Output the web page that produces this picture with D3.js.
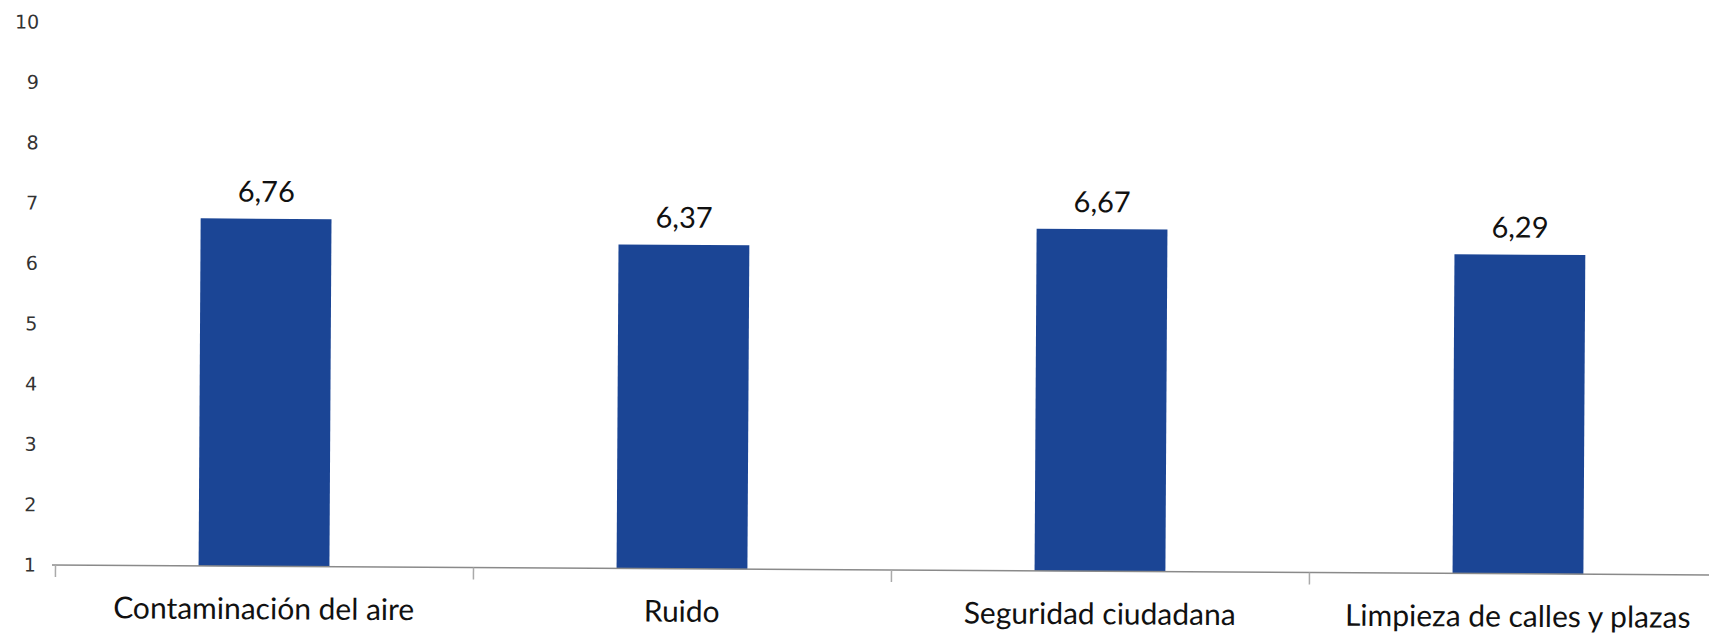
<!DOCTYPE html>
<html><head><meta charset="utf-8">
<script src="https://cdn.jsdelivr.net/npm/d3@7"></script>
<style>html,body{margin:0;padding:0;background:#fff;overflow:hidden}</style>
</head><body>
<svg id="chart" width="1709" height="635"></svg>
<script>
const categories = ["Contaminación del aire", "Ruido", "Seguridad ciudadana", "Limpieza de calles y plazas"];
const values = [6.76, 6.37, 6.67, 6.29];
const valueLabels = ["6,76", "6,37", "6,67", "6,29"];
const yTicks = [1, 2, 3, 4, 5, 6, 7, 8, 9, 10];

const svg = d3.select("#chart");
const originX = 52, originY = 565;
// slight skew of the scanned original
const g = svg.append("g").attr("transform", `rotate(0.344 ${originX} ${originY})`);

const x = d3.scaleBand().domain(categories).range([55, 1727]).paddingInner(0.687).paddingOuter(0.3435);
const y = d3.scaleLinear().domain([1, 10]).range([originY, 22]);

// y tick labels
g.append("g").selectAll("text").data(yTicks).join("text")
  .attr("x", 36).attr("y", d => y(d)).attr("dy", "0.35em")
  .attr("text-anchor", "end")
  .style("font-family", "DejaVu Sans").style("font-size", "19px").style("fill", "#333")
  .text(d => d);

// bars
g.append("g").selectAll("rect").data(values).join("rect")
  .attr("x", (d, i) => x(categories[i]))
  .attr("width", x.bandwidth())
  .attr("y", d => y(d))
  .attr("height", d => y(1) - y(d))
  .attr("fill", "#1b4595");

// x axis
const xAxis = d3.axisBottom(d3.scaleLinear().domain([0, 4]).range([55, 1727])).tickValues([0,1,2,3,4]).tickSize(12).tickFormat("");
const ax = g.append("g").attr("transform", `translate(0,${originY})`).call(xAxis);
ax.select(".domain").attr("stroke", "#8a8a8a").attr("stroke-width", 1.5).attr("d", `M${originX},0H1727`);
ax.selectAll(".tick line").attr("stroke", "#aaa").attr("stroke-width", 1.5);

// value labels
g.append("g").selectAll("text").data(values).join("text")
  .attr("x", (d, i) => x(categories[i]) + x.bandwidth() / 2)
  .attr("y", d => y(d) - 17)
  .attr("text-anchor", "middle")
  .style("font-family", "Lato").style("font-size", "29px").style("fill", "#111")
  .text((d, i) => valueLabels[i]);

// category labels
g.append("g").selectAll("text").data(categories).join("text")
  .attr("x", d => x(d) + x.bandwidth() / 2)
  .attr("y", originY + 53)
  .attr("text-anchor", "middle")
  .style("font-family", "Lato").style("font-size", "30px").style("fill", "#111")
  .text(d => d);
</script>
</body></html>
